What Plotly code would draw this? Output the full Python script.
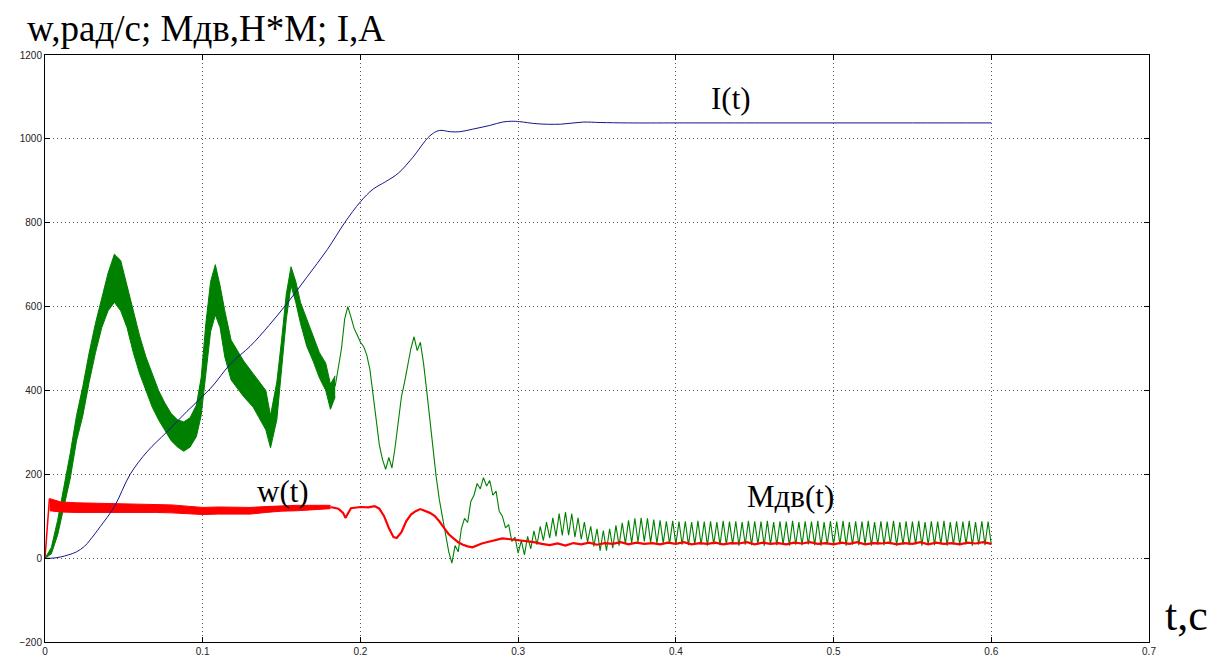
import plotly.graph_objects as go
import numpy as np

# ---------------- data ----------------
# Current I(t), A
current_t = [0, 0.005, 0.010, 0.015, 0.020, 0.025, 0.0285, 0.035, 0.044, 0.054, 0.065, 0.077,
             0.090, 0.105, 0.118, 0.130, 0.142, 0.154, 0.166, 0.179, 0.190, 0.200, 0.208, 0.216,
             0.224, 0.233, 0.244, 0.250, 0.257, 0.263, 0.271, 0.282, 0.290, 0.296, 0.301, 0.312,
             0.327, 0.341, 0.352, 0.370, 0.400, 0.450, 0.500, 0.550, 0.600]
current_v = [0, 0, 3, 8, 15, 28, 43, 75, 123, 200, 255, 300,
             350, 405, 465, 505, 555, 610, 670, 736, 800, 850, 880, 898,
             918, 955, 1007, 1020, 1017, 1017, 1023, 1032, 1040, 1042, 1041, 1036,
             1035, 1040, 1039, 1038, 1038, 1038, 1038, 1038, 1038]

# Motor torque M(t): noisy start-up section drawn as an envelope band
torque_band_t = [0.000, 0.004, 0.008, 0.012, 0.016, 0.020, 0.024, 0.028, 0.032, 0.036, 0.040,
                 0.044, 0.048, 0.052, 0.056, 0.060, 0.064, 0.068, 0.072, 0.076, 0.080, 0.084,
                 0.088, 0.092, 0.096, 0.099, 0.102, 0.105, 0.108, 0.111, 0.114, 0.118, 0.126,
                 0.132, 0.140, 0.143, 0.147, 0.150, 0.153, 0.156, 0.159, 0.162, 0.166, 0.170,
                 0.174, 0.178, 0.181, 0.184]
torque_band_lo = [0, 10, 55, 120, 190, 280, 340, 420, 490, 550, 590,
                  610, 590, 550, 490, 440, 400, 360, 330, 305, 280, 265,
                  255, 265, 290, 340, 440, 540, 580, 550, 480, 425, 385,
                  360, 306, 263, 330, 450, 570, 650, 610, 560, 505, 470,
                  430, 400, 355, 385]
torque_band_hi = [0, 25, 90, 170, 250, 340, 410, 490, 560, 620, 680,
                  725, 710, 650, 590, 530, 480, 440, 400, 370, 345, 330,
                  325, 335, 365, 430, 560, 660, 700, 650, 590, 520, 470,
                  440, 400, 340, 420, 520, 630, 695, 660, 610, 570, 525,
                  490, 465, 415, 435]

# M(t) from 0.184 s, sampled every 0.002 s
torque_swing = [410, 455, 500, 570, 600, 575, 548, 532, 515, 505, 485, 450,
                385, 320, 270, 235, 212, 240, 215, 265, 320, 385,
                420, 465, 500, 528, 495, 515, 465, 400, 330, 265,
                195, 140, 95, 55, 15, -12, 30, 15, 70, 95,
                85, 135, 150, 178, 165, 192, 172, 185, 150, 160,
                112, 100, 72, 80, 40, 50, 12, 42, 8, 52,
                22, 65, 32, 76, 42, 86, 48, 96, 52, 106,
                54, 110, 55, 106, 50, 96, 45, 86, 38, 76,
                28, 70, 18, 66, 18, 70, 24, 78, 30, 84,
                34, 90, 36, 95, 38, 96, 40, 95, 37, 92,
                35]
torque_ripple = [90, 36, 88, 34, 89, 33, 87, 32, 88, 31,
                 86, 33, 89, 32, 87, 30, 88, 33, 86, 31,
                 89, 32, 87, 33, 88, 30, 86, 32, 89, 31,
                 88, 33, 87, 30, 89, 32, 86, 31, 88, 33,
                 87, 30, 89, 32, 86, 31, 88, 33, 87, 31,
                 89, 30, 86, 32, 88, 31, 87, 33, 89, 30,
                 86, 32, 88, 31, 87, 33, 89, 30, 86, 32,
                 88, 31, 87, 33, 89, 30, 86, 32, 88, 31,
                 87, 33, 89, 30, 86, 32, 88, 31, 87, 33,
                 89, 30, 86, 32, 88, 31, 87, 33, 89, 30,
                 86, 32, 88, 31, 87, 33]

# Angular speed w(t), rad/s
speed_jump_t = [0.000, 0.0015, 0.0028]
speed_jump_v = [0, 70, 142]
speed_band_t = [0.003, 0.010, 0.020, 0.030, 0.040, 0.050, 0.060, 0.070, 0.080, 0.090,
                0.100, 0.110, 0.120, 0.130, 0.140, 0.150, 0.160, 0.170, 0.181]
speed_band_lo = [113, 110, 109, 109, 109, 109, 110, 109, 108, 106,
                 104, 105, 105, 105, 109, 112, 113, 116, 118]
speed_band_hi = [142, 134, 132, 131, 130, 130, 129, 128, 127, 124,
                 121, 122, 121, 121, 123, 125, 126, 126, 126]
speed_mid_t = [0.181, 0.186, 0.189, 0.1905, 0.192, 0.194, 0.200, 0.205, 0.209, 0.212,
               0.215, 0.218, 0.221, 0.223, 0.226, 0.229, 0.232, 0.235, 0.238, 0.241,
               0.244, 0.247, 0.250, 0.253, 0.256, 0.259, 0.262, 0.265, 0.268, 0.271,
               0.274, 0.277, 0.280, 0.285, 0.290, 0.295, 0.300, 0.305, 0.310, 0.315]
speed_mid_v = [122, 118, 108, 96, 106, 119, 122, 121, 124, 118,
               100, 72, 50, 48, 62, 88, 104, 112, 117, 113,
               108, 101, 88, 72, 57, 47, 38, 32, 28, 26,
               31, 35, 38, 42, 47, 45, 43, 41, 38, 34]
speed_tail = [31, 35, 30, 36, 33, 37, 32, 36, 34, 38,
              33, 37, 34, 36, 33, 37, 34, 38, 33, 36,
              34, 37, 33, 36, 35, 38, 33, 37, 34, 36,
              33, 37, 35, 38, 34, 36, 33, 37, 34, 38,
              33, 36, 35, 37, 33, 36, 34, 38, 33, 37,
              34, 36, 33, 37, 35, 38, 34]

# sampling grids of the uniformly sampled sections
swing_t = np.round(0.184 + 0.002 * np.arange(len(torque_swing)), 4)
ripple_t = np.round(0.390 + 0.002 * np.arange(len(torque_ripple)), 4)
tail_t = np.round(0.320 + 0.005 * np.arange(len(speed_tail)), 4)

GREEN = "#008000"
RED = "#ff0000"
BLUE = "#14148c"

fig = go.Figure()

# torque: band + line
fig.add_trace(go.Scatter(x=torque_band_t, y=torque_band_hi, mode="lines",
                         line=dict(color=GREEN, width=1), hoverinfo="skip"))
fig.add_trace(go.Scatter(x=torque_band_t, y=torque_band_lo, mode="lines",
                         line=dict(color=GREEN, width=1), fill="tonexty",
                         fillcolor=GREEN, hoverinfo="skip"))
fig.add_trace(go.Scatter(x=list(swing_t) + list(ripple_t),
                         y=torque_swing + torque_ripple, mode="lines",
                         line=dict(color=GREEN, width=1.1)))

# speed: jump, band, line
fig.add_trace(go.Scatter(x=speed_jump_t, y=speed_jump_v, mode="lines",
                         line=dict(color=RED, width=1.5)))
fig.add_trace(go.Scatter(x=speed_band_t, y=speed_band_hi, mode="lines",
                         line=dict(color=RED, width=1), hoverinfo="skip"))
fig.add_trace(go.Scatter(x=speed_band_t, y=speed_band_lo, mode="lines",
                         line=dict(color=RED, width=1), fill="tonexty",
                         fillcolor=RED, hoverinfo="skip"))
fig.add_trace(go.Scatter(x=speed_mid_t + list(tail_t), y=speed_mid_v + speed_tail,
                         mode="lines", line=dict(color=RED, width=2.2)))

# current
fig.add_trace(go.Scatter(x=current_t, y=current_v, mode="lines",
                         line=dict(color=BLUE, width=1), line_shape="spline"))

axis_common = dict(
    showgrid=True, gridcolor="#555555", griddash="1px,3px", gridwidth=1,
    showline=True, linecolor="black", linewidth=1, mirror="ticks",
    ticks="inside", ticklen=5, tickcolor="black", zeroline=False,
    tickfont=dict(family="Liberation Sans", size=10, color="#222222"),
    automargin=False,
)

fig.update_layout(
    width=1229, height=661,
    margin=dict(l=45, r=80, t=55, b=19),
    paper_bgcolor="white", plot_bgcolor="white",
    showlegend=False,
    xaxis=dict(range=[0, 0.7], dtick=0.1, tick0=0, **axis_common),
    yaxis=dict(range=[-200, 1200], dtick=200, tick0=0, **axis_common),
)

serif = "Liberation Serif"
fig.add_annotation(text="w,рад/с; Mдв,H*M; I,A", xref="paper", yref="paper",
                   x=(25 - 45) / 1104, y=(642 - 29) / 587, xanchor="left", yanchor="middle",
                   showarrow=False, font=dict(family=serif, size=37, color="black"))
fig.add_annotation(text="t,c", xref="paper", yref="paper",
                   x=(1186 - 45) / 1104, y=(642 - 615) / 587, xanchor="center", yanchor="middle",
                   showarrow=False, font=dict(family=serif, size=44, color="black"))
fig.add_annotation(text="I(t)", x=0.435, y=1097, xanchor="center", yanchor="middle",
                   showarrow=False, font=dict(family=serif, size=31, color="black"))
fig.add_annotation(text="w(t)", x=0.151, y=160, xanchor="center", yanchor="middle",
                   showarrow=False, font=dict(family=serif, size=31, color="black"))
fig.add_annotation(text="Mдв(t)", x=0.4724, y=146, xanchor="center", yanchor="middle",
                   showarrow=False, font=dict(family=serif, size=31, color="black"))

fig.write_html("out.html")
